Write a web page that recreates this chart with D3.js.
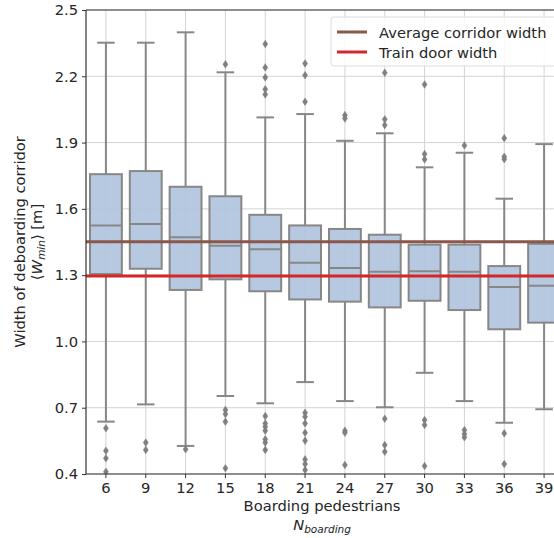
<!DOCTYPE html>
<html><head><meta charset="utf-8">
<script src="https://cdn.jsdelivr.net/npm/d3@7"></script>
<style>
html,body{margin:0;padding:0;background:#fff;overflow:hidden}
text{font-family:"DejaVu Sans",sans-serif;fill:#262626}
</style></head>
<body><svg id="c" width="554" height="538"></svg>
<script>
const categories = [6, 9, 12, 15, 18, 21, 24, 27, 30, 33, 36, 39];
const q1 = [1.305, 1.329, 1.233, 1.281, 1.227, 1.190, 1.180, 1.154, 1.184, 1.142, 1.055, 1.085];
const medians = [1.525, 1.531, 1.472, 1.433, 1.417, 1.356, 1.332, 1.315, 1.318, 1.315, 1.246, 1.252];
const q3 = [1.757, 1.771, 1.700, 1.657, 1.573, 1.525, 1.509, 1.483, 1.438, 1.438, 1.341, 1.442];
const whiskerLow = [0.637, 0.715, 0.527, 0.753, 0.720, 0.816, 0.730, 0.702, 0.858, 0.730, 0.632, 0.693];
const whiskerHigh = [2.352, 2.352, 2.399, 2.218, 2.014, 2.029, 1.908, 1.942, 1.788, 1.854, 1.646, 1.893];
const outliers = [
  [0.607, 0.505, 0.471, 0.410],
  [0.542, 0.509],
  [0.512],
  [2.254, 0.690, 0.671, 0.637, 0.426],
  [2.346, 2.240, 2.195, 2.141, 2.118, 0.662, 0.629, 0.614, 0.596, 0.557, 0.542, 0.509],
  [2.258, 2.205, 2.085, 0.677, 0.659, 0.629, 0.587, 0.551, 0.466, 0.445, 0.418],
  [2.024, 2.009, 0.596, 0.587, 0.441],
  [2.216, 2.005, 1.979, 0.650, 0.531, 0.501],
  [2.163, 1.848, 1.824, 0.644, 0.622, 0.436],
  [1.887, 0.599, 0.581, 0.566],
  [1.920, 1.836, 1.825, 0.584, 0.445],
  []
];
const yTicks = [0.4, 0.7, 1.0, 1.3, 1.6, 1.9, 2.2, 2.5];
const avgCorridorWidth = 1.451;
const trainDoorWidth = 1.296;
const legendLabels = ["Average corridor width", "Train door width"];

const FS = 14.7, SUB = 10.5;
const svg = d3.select("#c");
const L = 86, R = 564, T = 10, B = 474;
const x = d3.scaleBand().domain(categories).range([L, R]).padding(0);
const y = d3.scaleLinear().domain([0.4, 2.5]).range([B, T]);
const bw = x.bandwidth() * 0.8;
const cx = c => x(c) + x.bandwidth() / 2;

svg.append("defs").append("clipPath").attr("id", "clip")
  .append("rect").attr("x", L).attr("y", T).attr("width", R - L).attr("height", B - T);

// grid
const grid = svg.append("g");
grid.selectAll(".hg").data(yTicks).join("line")
  .attr("x1", L).attr("x2", R).attr("y1", d => y(d)).attr("y2", d => y(d))
  .attr("stroke", "#d3d3d3").attr("stroke-width", 1);
grid.selectAll(".vg").data(categories).join("line")
  .attr("x1", d => cx(d)).attr("x2", d => cx(d)).attr("y1", T).attr("y2", B)
  .attr("stroke", "#d3d3d3").attr("stroke-width", 1);

const plot = svg.append("g").attr("clip-path", "url(#clip)");
const lineCol = "#878787";
const data = categories.map((c, i) => ({c, q1: q1[i], med: medians[i], q3: q3[i], lo: whiskerLow[i], hi: whiskerHigh[i], out: outliers[i]}));

const g = plot.selectAll(".box").data(data).join("g");
g.append("line").attr("x1", d => cx(d.c)).attr("x2", d => cx(d.c))
  .attr("y1", d => y(d.q3)).attr("y2", d => y(d.hi)).attr("stroke", lineCol).attr("stroke-width", 2);
g.append("line").attr("x1", d => cx(d.c)).attr("x2", d => cx(d.c))
  .attr("y1", d => y(d.q1)).attr("y2", d => y(d.lo)).attr("stroke", lineCol).attr("stroke-width", 2);
const capW = bw * 0.55;
["hi", "lo"].forEach(k => {
  g.append("line").attr("x1", d => cx(d.c) - capW / 2).attr("x2", d => cx(d.c) + capW / 2)
    .attr("y1", d => y(d[k])).attr("y2", d => y(d[k])).attr("stroke", lineCol).attr("stroke-width", 2);
});
g.append("rect").attr("x", d => cx(d.c) - bw / 2).attr("width", bw)
  .attr("y", d => y(d.q3)).attr("height", d => y(d.q1) - y(d.q3))
  .attr("fill", "#b0c4de").attr("fill-opacity", 0.92).attr("stroke", lineCol).attr("stroke-width", 2);
g.append("line").attr("x1", d => cx(d.c) - bw / 2).attr("x2", d => cx(d.c) + bw / 2)
  .attr("y1", d => y(d.med)).attr("y2", d => y(d.med)).attr("stroke", lineCol).attr("stroke-width", 2);
g.each(function(d) {
  d3.select(this).selectAll("path").data(d.out).join("path")
    .attr("d", v => { const px = cx(d.c), py = y(v), w = 2.5, h = 3.8;
      return `M${px},${py - h}L${px + w},${py}L${px},${py + h}L${px - w},${py}Z`; })
    .attr("fill", "#7f7f7f").attr("stroke", "#7f7f7f").attr("stroke-width", 0.5);
});

plot.append("line").attr("x1", L).attr("x2", R).attr("y1", y(avgCorridorWidth)).attr("y2", y(avgCorridorWidth))
  .attr("stroke", "#8c564b").attr("stroke-width", 3);
plot.append("line").attr("x1", L).attr("x2", R).attr("y1", y(trainDoorWidth)).attr("y2", y(trainDoorWidth))
  .attr("stroke", "#d62728").attr("stroke-width", 3);

const yAxis = svg.append("g").attr("transform", `translate(${L},0)`)
  .call(d3.axisLeft(y).tickValues(yTicks).tickFormat(d3.format(".1f")).tickSize(4).tickPadding(4));
const xAxis = svg.append("g").attr("transform", `translate(0,${B})`)
  .call(d3.axisBottom(x).tickSize(4).tickPadding(5));
[yAxis, xAxis].forEach(a => {
  a.select(".domain").remove();
  a.selectAll("line").attr("stroke", "#333");
  a.selectAll("text").attr("font-size", FS).attr("fill", "#262626").style("font-family", "DejaVu Sans");
});
svg.append("line").attr("x1", L).attr("x2", L).attr("y1", T).attr("y2", B).attr("stroke", "#333").attr("stroke-width", 1.2);
svg.append("line").attr("x1", L).attr("x2", R).attr("y1", B).attr("y2", B).attr("stroke", "#333").attr("stroke-width", 1.2);
svg.append("line").attr("x1", L).attr("x2", R).attr("y1", T).attr("y2", T).attr("stroke", "#333").attr("stroke-width", 1.2);

const yl = svg.append("text").attr("transform", `translate(25,${(T + B) / 2}) rotate(-90)`)
  .attr("text-anchor", "middle").attr("font-size", FS);
yl.text("Width of deboarding corridor");
const yl2 = svg.append("text").attr("transform", `translate(42,${(T + B) / 2}) rotate(-90)`)
  .attr("text-anchor", "middle").attr("font-size", FS);
yl2.append("tspan").text("\u27E8");
yl2.append("tspan").attr("font-style", "italic").text("W");
yl2.append("tspan").attr("font-style", "italic").attr("font-size", SUB).attr("dy", 3).text("min");
yl2.append("tspan").attr("dy", -3).text("\u27E9 [m]");

svg.append("text").attr("x", (L + R) / 2 - 3).attr("y", 511).attr("text-anchor", "middle")
  .attr("font-size", FS).text("Boarding pedestrians");
const xl2 = svg.append("text").attr("x", (L + R) / 2 - 3).attr("y", 530).attr("text-anchor", "middle").attr("font-size", FS);
xl2.append("tspan").attr("font-style", "italic").text("N");
xl2.append("tspan").attr("font-style", "italic").attr("font-size", SUB).attr("dy", 3).text("boarding");

const lg = svg.append("g");
lg.append("rect").attr("x", 331).attr("y", 17).attr("width", 240).attr("height", 49).attr("rx", 3)
  .attr("fill", "#fff").attr("fill-opacity", 0.85).attr("stroke", "#dcdcdc");
[["#8c564b", legendLabels[0]], ["#d62728", legendLabels[1]]].forEach(([c, t], i) => {
  const yy = 32 + i * 20;
  lg.append("line").attr("x1", 337).attr("x2", 367).attr("y1", yy).attr("y2", yy).attr("stroke", c).attr("stroke-width", 3);
  lg.append("text").attr("x", 379).attr("y", yy + 5.5).attr("font-size", FS).text(t);
});
</script></body></html>
